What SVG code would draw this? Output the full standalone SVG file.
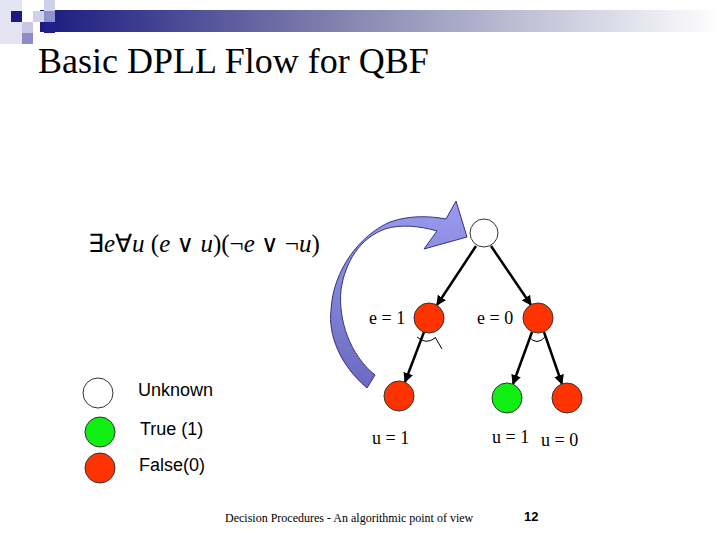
<svg xmlns="http://www.w3.org/2000/svg" width="720" height="540" viewBox="0 0 720 540">
<defs>
<linearGradient id="bar" x1="0" y1="0" x2="1" y2="0">
<stop offset="0" stop-color="#1a1a80"/>
<stop offset="0.45" stop-color="#8585b0"/>
<stop offset="1" stop-color="#ffffff"/>
</linearGradient>
<linearGradient id="arc" x1="0" y1="0" x2="0" y2="1">
<stop offset="0" stop-color="#9a9aee"/>
<stop offset="1" stop-color="#6a6ac0"/>
</linearGradient>
<marker id="ah" viewBox="0 0 10 10" refX="9" refY="5" markerWidth="4" markerHeight="4" orient="auto" markerUnits="strokeWidth">
<path d="M0,0 L10,5 L0,10 Z" fill="#000"/>
</marker>
<style>
.n{stroke:#333;stroke-width:1}
.w{fill:#fff}
.r{fill:#ff3300}
.g{fill:#11ee11}
.e{stroke:#000;stroke-width:2.5;fill:none;marker-end:url(#ah)}
.t{font-family:"Liberation Serif",serif;font-size:18px;fill:#000}
.lg{font-family:"Liberation Sans",sans-serif;font-size:18px;fill:#000}
.arcl{fill:none;stroke:#000;stroke-width:1}
.op{font-family:"DejaVu Serif",serif;font-size:24px}
</style>
</defs>
<rect width="720" height="540" fill="#fff"/>
<g id="header">
<rect x="40" y="10" width="680" height="22" fill="url(#bar)"/>
<rect x="0" y="0" width="22" height="44" fill="#e4e4f2"/>
<rect x="11" y="11" width="11" height="11" fill="#1a1a80"/>
<rect x="22" y="22" width="11" height="11" fill="#c8c8e6"/>
<rect x="22" y="33" width="11" height="11" fill="#8c8cc8"/>
<rect x="33" y="11" width="11" height="11" fill="#d0d0ea"/>
<rect x="44" y="0" width="11" height="11" fill="#d0d0ea"/>
<rect x="44" y="11" width="11" height="11" fill="#9090cc"/>
<rect x="44" y="22" width="11" height="11" fill="#202088"/>
</g>
<text x="38" y="73" font-family="Liberation Serif, serif" font-size="36">Basic DPLL Flow for QBF</text>
<text x="88" y="252" font-family="Liberation Serif, serif" font-size="25">∃<tspan font-style="italic">e</tspan>∀<tspan font-style="italic">u</tspan> (<tspan font-style="italic">e</tspan> <tspan class="op">∨</tspan> <tspan font-style="italic">u</tspan>)(¬<tspan font-style="italic">e</tspan> <tspan class="op">∨</tspan> ¬<tspan font-style="italic">u</tspan>)</text>
<path id="bigarrow" d="M367,388 C340,365 328,335 331,310 C333,270 360,235 390,222 C410,215 430,216 446,219 L456,201 L467,237 L424,249 L437,231 C420,226 400,224 385,229 C360,238 345,262 341,290 C338,320 350,355 375,375 Z" fill="url(#arc)" stroke="#33337a" stroke-width="1"/>
<g id="connectors">
<line class="e" x1="476" y1="246" x2="437" y2="305"/>
<line class="e" x1="491" y1="246" x2="531" y2="305"/>
<line class="e" x1="424" y1="332" x2="405" y2="382"/>
<line class="e" x1="532" y1="332" x2="513" y2="384"/>
<line class="e" x1="544" y1="332" x2="562" y2="384"/>
<path class="arcl" d="M417,337 Q426,345 435,338"/>
<line class="arcl" x1="435" y1="337" x2="442" y2="349"/>
<path class="arcl" d="M529,337 Q537,346 545,337"/>
</g>
<g id="root"><circle class="n w" cx="484" cy="233" r="14"/></g>
<g id="e1"><circle class="n r" cx="429" cy="318" r="15"/><text class="t" x="369" y="324">e = 1</text></g>
<g id="e0"><circle class="n r" cx="538" cy="318" r="15"/><text class="t" x="477" y="324">e = 0</text></g>
<g id="u1a"><circle class="n r" cx="399" cy="396" r="15"/><text class="t" x="372" y="444">u = 1</text></g>
<g id="u1b"><circle class="n g" cx="507" cy="398" r="15"/><text class="t" x="492" y="443">u = 1</text></g>
<g id="u0"><circle class="n r" cx="567" cy="398" r="15"/><text class="t" x="541" y="446">u = 0</text></g>
<g id="legend">
<circle class="n w" cx="98" cy="393" r="15"/>
<circle class="n g" cx="100" cy="432" r="15"/>
<circle class="n r" cx="100" cy="468" r="15"/>
<text class="lg" x="138" y="396">Unknown</text>
<text class="lg" x="140" y="435">True (1)</text>
<text class="lg" x="139" y="471">False(0)</text>
</g>
<text x="225" y="522" font-family="Liberation Serif, serif" font-size="12">Decision Procedures - An algorithmic point of view</text>
<text x="524" y="521" font-family="Liberation Sans, sans-serif" font-size="13" font-weight="bold">12</text>
</svg>
